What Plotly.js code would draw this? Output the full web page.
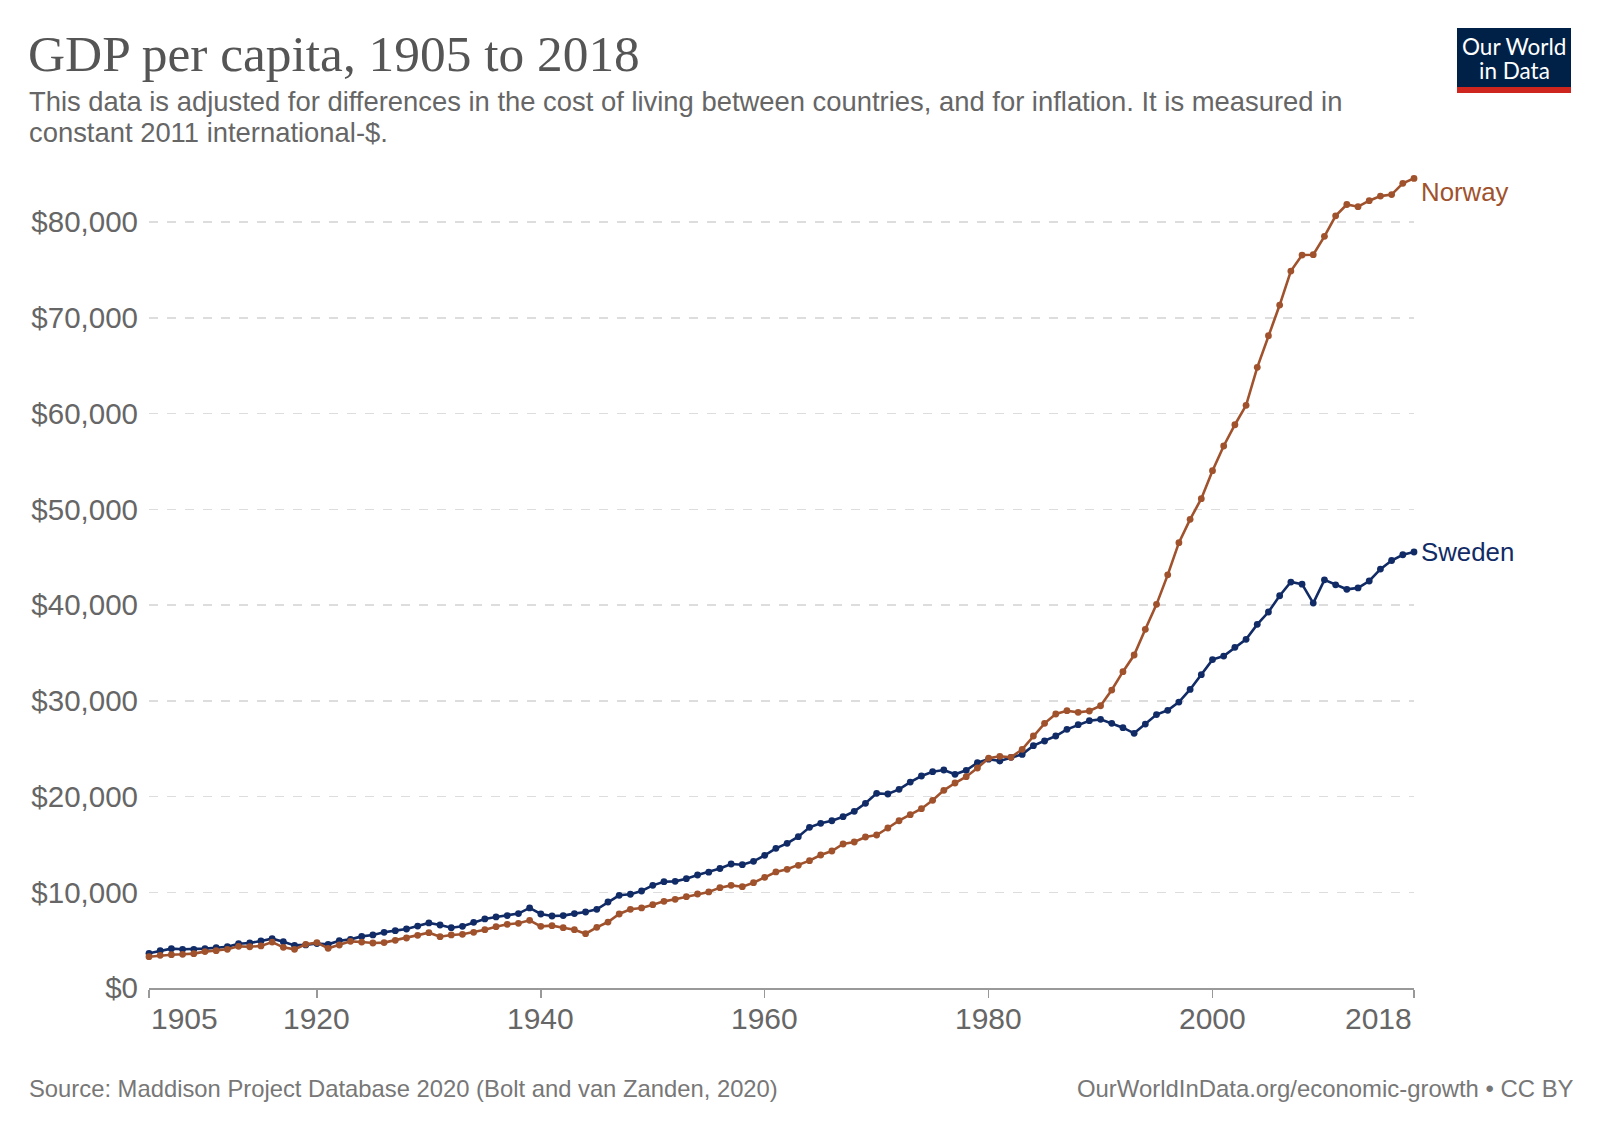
<!DOCTYPE html>
<html>
<head>
<meta charset="utf-8">
<script src="https://cdn.plot.ly/plotly-3.0.1.min.js"></script>
<style>
html,body{margin:0;padding:0;background:#fff;}
#chart{width:1600px;height:1130px;}
</style>
</head>
<body>
<div id="chart"></div>
<script>
const years = [1905,1906,1907,1908,1909,1910,1911,1912,1913,1914,1915,1916,1917,1918,1919,1920,1921,1922,1923,1924,1925,1926,1927,1928,1929,1930,1931,1932,1933,1934,1935,1936,1937,1938,1939,1940,1941,1942,1943,1944,1945,1946,1947,1948,1949,1950,1951,1952,1953,1954,1955,1956,1957,1958,1959,1960,1961,1962,1963,1964,1965,1966,1967,1968,1969,1970,1971,1972,1973,1974,1975,1976,1977,1978,1979,1980,1981,1982,1983,1984,1985,1986,1987,1988,1989,1990,1991,1992,1993,1994,1995,1996,1997,1998,1999,2000,2001,2002,2003,2004,2005,2006,2007,2008,2009,2010,2011,2012,2013,2014,2015,2016,2017,2018];

const norway = [3270,3410,3480,3520,3590,3800,3900,4040,4350,4310,4390,4800,4250,4040,4560,4740,4140,4490,4870,4800,4700,4740,4980,5220,5500,5780,5360,5540,5610,5820,6090,6400,6650,6760,7070,6440,6510,6300,6090,5670,6340,6890,7730,8220,8360,8700,9050,9260,9540,9820,10030,10480,10720,10580,11000,11560,12120,12400,12810,13300,13890,14310,15040,15250,15770,15980,16710,17470,18100,18730,19600,20650,21410,22070,22980,24000,24200,24090,24930,26320,27640,28620,28960,28790,28930,29480,31120,33040,34780,37460,40070,43150,46510,48950,51110,54030,56610,58830,60860,64830,68130,71330,74880,76550,76590,78510,80650,81830,81600,82230,82710,82870,84040,84560];

const sweden = [3620,3900,4110,4040,4040,4110,4210,4310,4630,4700,4910,5150,4840,4450,4500,4650,4560,4940,5080,5390,5540,5820,5990,6160,6470,6800,6580,6300,6440,6860,7210,7420,7560,7770,8360,7730,7520,7560,7770,7940,8220,8980,9680,9790,10130,10720,11100,11140,11420,11800,12100,12480,12950,12880,13230,13860,14590,15110,15810,16780,17200,17470,17890,18450,19290,20330,20260,20750,21510,22140,22590,22770,22320,22740,23530,23900,23710,24090,24400,25310,25800,26320,27020,27500,27920,28060,27640,27190,26600,27570,28560,29000,29860,31180,32720,34300,34670,35580,36420,37980,39270,40970,42400,42180,40200,42630,42110,41640,41790,42510,43750,44650,45250,45540];

const seriesNames = ['Sweden', 'Norway'];
const xTickVals = [1905, 1920, 1940, 1960, 1980, 2000, 2018];
const xTickText = ['1905', '1920', '1940', '1960', '1980', '2000', '2018'];
const yTickVals = [0, 10000, 20000, 30000, 40000, 50000, 60000, 70000, 80000];
const yTickText = ['$0', '$10,000', '$20,000', '$30,000', '$40,000', '$50,000', '$60,000', '$70,000', '$80,000'];

const titleText = 'GDP per capita, 1905 to 2018';
const subtitleLines = [
  'This data is adjusted for differences in the cost of living between countries, and for inflation. It is measured in',
  'constant 2011 international-$.'
];
const sourceText = 'Source: Maddison Project Database 2020 (Bolt and van Zanden, 2020)';
const licenseText = 'OurWorldInData.org/economic-growth • CC BY';

const SANS = 'Liberation Sans, Arial, Helvetica, sans-serif';
const colors = {Sweden: '#112b66', Norway: '#a0522d'};
const seriesData = {Sweden: sweden, Norway: norway};

const traces = seriesNames.map(name => ({
  type: 'scatter',
  mode: 'lines+markers',
  name: name,
  x: years,
  y: seriesData[name],
  line: {color: colors[name], width: 2.6},
  marker: {color: colors[name], size: 6.8},
  cliponaxis: false,
  hoverinfo: 'skip'
}));

// pixel helpers for placement outside the plot (plot area: x 149..1414, y 178..988)
const L = 149, T = 178, W = 1265, H = 810;
const px = v => (v - L) / W;
const py = v => (T + H - v) / H;

const annotations = [];

// subtitle (two lines)
const subY = [101, 133];
subtitleLines.forEach((line, i) => {
  annotations.push({
    text: line, xref: 'paper', yref: 'paper',
    x: px(27), y: py(subY[i]), xanchor: 'left', yanchor: 'middle', align: 'left',
    showarrow: false, font: {family: SANS, size: 27.4, color: '#666'}
  });
});

// x tick labels
xTickVals.forEach((v, i) => {
  annotations.push({
    text: xTickText[i], xref: 'x', yref: 'paper', x: v, y: py(1018),
    xanchor: i === 0 ? 'left' : (i === xTickVals.length - 1 ? 'right' : 'center'),
    yanchor: 'middle', showarrow: false,
    font: {family: SANS, size: 30, color: '#666'}
  });
});

// series end labels
seriesNames.forEach(name => {
  const vals = seriesData[name];
  annotations.push({
    text: name, xref: 'x', yref: 'y',
    x: years[years.length - 1], y: vals[vals.length - 1],
    xanchor: 'left', yanchor: 'middle', xshift: 5,
    yshift: name === 'Norway' ? -14 : 0,
    showarrow: false, font: {family: SANS, size: 25.8, color: colors[name]}
  });
});

// footer
annotations.push({
  text: sourceText, xref: 'paper', yref: 'paper', x: px(27), y: py(1088),
  xanchor: 'left', yanchor: 'middle', showarrow: false,
  font: {family: SANS, size: 23.8, color: '#777'}
});
annotations.push({
  text: licenseText, xref: 'paper', yref: 'paper', x: px(1576), y: py(1088),
  xanchor: 'right', yanchor: 'middle', showarrow: false,
  font: {family: SANS, size: 23.9, color: '#777'}
});

// logo text
annotations.push({
  text: 'Our World', xref: 'paper', yref: 'paper', x: px(1514), y: py(46),
  xanchor: 'center', yanchor: 'middle', showarrow: false,
  font: {family: 'Lato, sans-serif', size: 22.5, color: '#fff'}
});
annotations.push({
  text: 'in Data', xref: 'paper', yref: 'paper', x: px(1514), y: py(70),
  xanchor: 'center', yanchor: 'middle', showarrow: false,
  font: {family: 'Lato, sans-serif', size: 22.5, color: '#fff'}
});

const shapes = [
  {type: 'rect', xref: 'paper', yref: 'paper', x0: px(1457), x1: px(1571), y0: py(93), y1: py(28),
   fillcolor: '#002147', line: {width: 0}, layer: 'above'},
  {type: 'rect', xref: 'paper', yref: 'paper', x0: px(1457), x1: px(1571), y0: py(93), y1: py(87),
   fillcolor: '#ce261e', line: {width: 0}, layer: 'above'}
];

const layout = {
  width: 1600, height: 1130,
  margin: {l: L, r: 1600 - L - W, t: T, b: 1130 - T - H, pad: 0},
  paper_bgcolor: '#fff', plot_bgcolor: '#fff',
  showlegend: false,
  title: {
    text: titleText, xref: 'container', yref: 'container',
    x: 28 / 1600, xanchor: 'left', y: 1 - 53 / 1130, yanchor: 'middle',
    font: {family: 'Liberation Serif, Times New Roman, serif', size: 51.4, color: '#555'}
  },
  xaxis: {
    range: [1905, 2018], fixedrange: true,
    tickvals: xTickVals, showticklabels: false,
    ticks: 'outside', ticklen: 8, tickwidth: 1.5, tickcolor: '#999',
    showline: true, linecolor: '#999', linewidth: 1.5,
    showgrid: false, zeroline: false
  },
  yaxis: {
    range: [0, 84600], fixedrange: true,
    tickmode: 'array', tickvals: yTickVals, ticktext: yTickText,
    ticks: '', ticklabelstandoff: 10,
    tickfont: {family: SANS, size: 29.5, color: '#666'},
    showgrid: true, gridcolor: '#dddddd', gridwidth: 1.5, griddash: 'dash',
    showline: false, zeroline: false
  },
  annotations: annotations,
  shapes: shapes
};

Plotly.newPlot('chart', traces, layout, {displayModeBar: false, staticPlot: true});
</script>
</body>
</html>
